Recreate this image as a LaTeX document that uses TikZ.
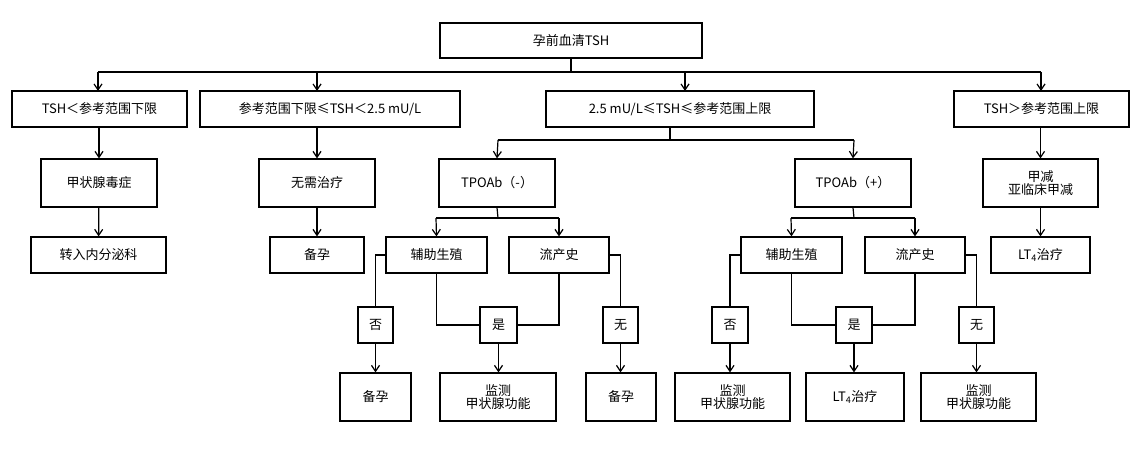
\documentclass[tikz,border=0pt]{standalone}
\usepackage{fontspec}
\setmainfont{Noto Sans CJK SC}
\usetikzlibrary{arrows.meta}
\begin{document}
\begin{tikzpicture}[x=1pt,y=-1pt,
  bx/.style={draw,line width=1.2pt,inner sep=0pt,font=\fontsize{13}{15}\selectfont,align=center},
  ln/.style={line width=1.2pt},
  ar/.style={line width=1.2pt,-{Straight Barb[length=6pt,width=8pt]}}]
\useasboundingbox (0,0) rectangle (1138,449);
\newcommand\bx[6]{\node[bx,minimum width=#4-#3,minimum height=#6-#5] (#1) at ({(#3+#4)/2},{(#5+#6)/2}) {#2};}
\bx{top}{孕前血清TSH}{440}{702}{23}{58}
\bx{a1}{TSH＜参考范围下限}{12}{187}{91}{127}
\bx{a2}{参考范围下限≤TSH＜2.5 mU/L}{200}{460}{91}{127}
\bx{a3}{2.5 mU/L≤TSH≤参考范围上限}{546}{814}{91}{127}
\bx{a4}{TSH＞参考范围上限}{954}{1129}{91}{127}
\bx{b1}{甲状腺毒症}{41}{157}{159}{207}
\bx{b2}{无需治疗}{259}{375}{159}{207}
\bx{b3}{TPOAb（-）}{439}{555}{159}{207}
\bx{b4}{TPOAb（+）}{795}{911}{159}{207}
\bx{b5}{甲减\\[-2pt]亚临床甲减}{983}{1098}{159}{207}
\bx{c1}{转入内分泌科}{31}{166}{237}{273}
\bx{c2}{备孕}{270}{364}{237}{273}
\bx{d1}{辅助生殖}{386}{487}{237}{273}
\bx{d2}{流产史}{509}{609}{237}{273}
\bx{d3}{辅助生殖}{741}{842}{237}{273}
\bx{d4}{流产史}{865}{965}{237}{273}
\bx{c5}{LT\textsubscript{4}治疗}{991}{1090}{237}{273}
\bx{l1}{否}{358}{393}{307}{343}
\bx{l2}{是}{480}{517}{307}{343}
\bx{l3}{无}{603}{638}{307}{343}
\bx{l4}{否}{712}{748}{307}{343}
\bx{l5}{是}{836}{872}{307}{343}
\bx{l6}{无}{959}{994}{307}{343}
\bx{e1}{备孕}{340}{411}{373}{421}
\bx{e2}{监测\\[-2pt]甲状腺功能}{440}{556}{373}{421}
\bx{e3}{备孕}{586}{656}{373}{421}
\bx{e4}{监测\\[-2pt]甲状腺功能}{675}{790}{373}{421}
\bx{e5}{LT\textsubscript{4}治疗}{806}{904}{373}{421}
\bx{e6}{监测\\[-2pt]甲状腺功能}{921}{1036}{373}{421}
% top bus
\coordinate (bus) at (571,72);
\draw[ln] (top.south) -- (bus);
\draw[ln] (98,72) -- (1041,72);
\draw[ar] (98,72) -- (98,91);
\draw[ar] (317,72) -- (317,91);
\draw[ar] (685,72) -- (685,91);
\draw[ar] (1041,72) -- (1041,91);
\draw[ar] (b1.north |- a1.south) -- (b1.north); \draw[ar] (b1) -- (c1);
\draw[ar] (b2.north |- a2.south) -- (b2.north); \draw[ar] (b2.south) -- (c2.north -| b2.south);
\draw[ar] (b5.north |- a4.south) -- (b5.north); \draw[ar] (b5.south) -- (c5.north -| b5.south);
% a3 to TPOAb
\draw[ln] (670,127) -- (670,140);
\draw[ln] (498,140) -- (854,140);
\draw[ar] (498,140) -- (b3.north);
\draw[ar] (854,140) -- (b4.north);
% TPOAb buses
\draw[ln] (b3.south) -- (498,218);
\draw[ln] (436,218) -- (559,218);
\draw[ar] (436,218) -- (d1.north); \draw[ar] (559,218) -- (d2.north);
\draw[ln] (b4.south) -- (854,218);
\draw[ln] (791,218) -- (915,218);
\draw[ar] (791,218) -- (d3.north); \draw[ar] (915,218) -- (d4.north);
% left group
\draw[ln] (d1.west) -| (l1.north); \draw[ar] (l1.south) -- (l1.south |- e1.north);
\draw[ln] (d1.south) |- (l2.west); \draw[ln] (d2.south) |- (l2.east); \draw[ar] (l2.south) -- (l2.south |- e2.north);
\draw[ln] (d2.east) -| (l3.north); \draw[ar] (l3.south) -- (l3.south |- e3.north);
% right group
\draw[ln] (d3.west) -| (l4.north); \draw[ar] (l4.south) -- (l4.south |- e4.north);
\draw[ln] (d3.south) |- (l5.west); \draw[ln] (d4.south) |- (l5.east); \draw[ar] (l5.south) -- (l5.south |- e5.north);
\draw[ln] (d4.east) -| (l6.north); \draw[ar] (l6.south) -- (l6.south |- e6.north);
\end{tikzpicture}
\end{document}
